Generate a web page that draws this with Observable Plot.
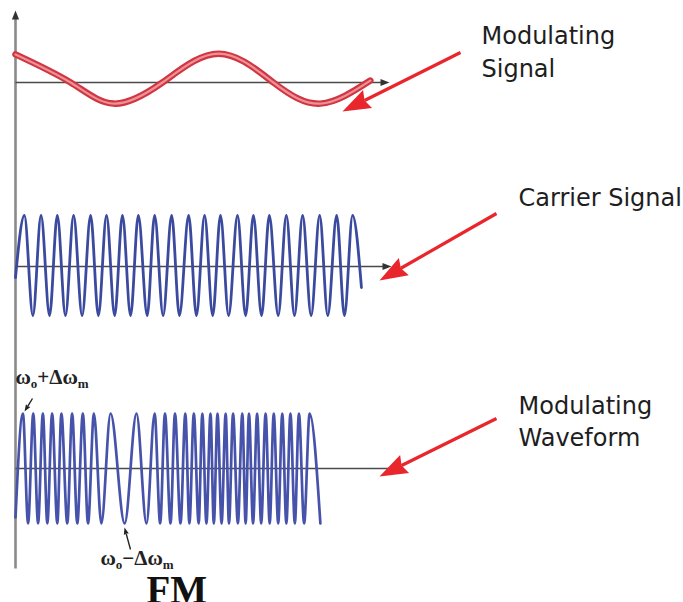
<!DOCTYPE html>
<html><head><meta charset="utf-8">
<script src="https://cdn.jsdelivr.net/npm/d3@7"></script>
<script src="https://cdn.jsdelivr.net/npm/@observablehq/plot@0.6"></script>
<style>html,body{margin:0;padding:0;background:#fff;overflow:hidden}#chart svg{display:block}</style>
</head><body><div id="chart"></div>
<script>
// ---- data (time t in arbitrary units 0..100, signal values in amplitude units) ----
// Modulating signal: key points (extrema and zero crossings)
const modT = [0, 14.9, 26.5, 39.7, 54.9, 69.7, 82.4, 95.9];
const modV = [1.17, 0, -0.88, 0, 1.2, 0, -0.88, 0.08];

// Carrier: crest and trough times, start and end samples
const carrierPeaks = [2.4, 6.9, 11.3, 15.7, 20.3, 24.6, 28.9, 33.2, 37.6, 42.2, 46.8, 51.1, 55.4, 60.0, 64.3, 68.6, 73.2, 77.6, 82.2, 86.8, 91.1];
const carrierTroughs = [4.7, 9.2, 13.5, 18.0, 22.4, 26.8, 31.1, 35.6, 39.9, 44.3, 48.9, 53.3, 57.6, 62.2, 66.5, 71.0, 75.4, 79.9, 84.4, 88.9];
const carrierEnds = [[0, -0.24], [93.5, -0.44]];

// FM waveform: crest and trough times (frequency follows the modulating signal)
const fmPeaks = [2.0, 4.8, 7.4, 9.9, 12.4, 15.3, 18.2, 21.2, 25.7, 32.7, 37.6, 40.4, 43.1, 45.9, 48.2, 50.5, 52.7, 54.6, 56.8, 58.8, 61.3, 63.1, 65.3, 67.6, 69.8, 72.1, 74.3, 76.6, 79.5];
const fmTroughs = [3.4, 6.1, 8.6, 11.3, 14.0, 16.7, 19.6, 23.2, 29.5, 35.4, 39.1, 41.9, 44.6, 47.0, 49.5, 51.6, 53.6, 55.7, 57.7, 60.1, 62.2, 64.2, 66.4, 68.7, 71.0, 73.2, 75.5, 78.0, 82.4];
const fmStart = [[0, -0.89]];

// Texts
const sideLabels = [["Modulating", "Signal"], ["Carrier Signal"], ["Modulating", "Waveform"]];
const omegaHigh = ["ω", "o", "+Δω", "m"];
const omegaLow = ["ω", "o", "−Δω", "m"];
const fmTitle = "FM";

// ---- layout ----
const X0 = 15, PX_PER_T = 3.7;
const px2t = px => (px - X0) / PX_PER_T;
const panel = {mod: {base: 82, amp: 24}, carrier: {base: 265, amp: 50}, fm: {base: 468, amp: 55}};

const toRows = (ts, vs, p) => ts.map((t, i) => ({t, y: p.base - p.amp * vs[i]}));
const fromExtrema = (peaks, troughs, extra) => {
  const pts = [...peaks.map(t => [t, 1]), ...troughs.map(t => [t, -1]), ...extra];
  pts.sort((a, b) => a[0] - b[0]);
  return pts;
};
const modRows = toRows(modT, modV, panel.mod);
const carPts = fromExtrema(carrierPeaks, carrierTroughs, carrierEnds);
const carRows = toRows(carPts.map(d => d[0]), carPts.map(d => d[1]), panel.carrier);
const fmPts = fromExtrema(fmPeaks, fmTroughs, fmStart);
const fmRows = toRows(fmPts.map(d => d[0]), fmPts.map(d => d[1]), panel.fm);

// arrow geometry (pixel space -> t for x)
function arrow(id, x0, y0, x1, y1, L, W, notch) {
  const dx = x1 - x0, dy = y1 - y0, d = Math.hypot(dx, dy), ux = dx / d, uy = dy / d, nx = -uy, ny = ux;
  const bx = x1 - ux * L, by = y1 - uy * L;
  const mx = x1 - ux * L * (1 - notch), my = y1 - uy * L * (1 - notch);
  const head = [[x1, y1], [bx + nx * W, by + ny * W], [mx, my], [bx - nx * W, by - ny * W]]
    .map(([x, y]) => ({id, t: px2t(x), y}));
  const shaft = {id, t1: px2t(x0), y1: y0, t2: px2t(mx), y2: my};
  return {head, shaft};
}
const redArrows = [
  arrow("r1", 460, 52, 342, 111, 28, 10, 0.12),
  arrow("r2", 496, 213, 379, 280, 28, 10, 0.12),
  arrow("r3", 496, 418, 379, 476, 28, 10, 0.12)
];
const blackArrows = [
  arrow("b1", 32, 398, 24, 411, 7, 2.6, 0.1),
  arrow("b2", 130, 549, 124, 527, 7, 2.6, 0.1)
];
const axisHeads = [
  arrow("a1", 15, 40, 15, 10, 9, 3.6, 0),
  arrow("a2", 360, 82, 389, 82, 9, 3.6, 0),
  arrow("a3", 360, 266, 391, 266, 9, 3.6, 0)
];
const hAxes = [
  {t1: 0, t2: px2t(383), y: 82},
  {t1: 0, t2: px2t(384), y: 266},
  {t1: 0, t2: px2t(393), y: 468}
];

const textRows = [
  {t: px2t(481), y: 43, s: sideLabels[0][0]},
  {t: px2t(481), y: 76, s: sideLabels[0][1]},
  {t: px2t(518), y: 205, s: sideLabels[1][0]},
  {t: px2t(518), y: 413, s: sideLabels[2][0]},
  {t: px2t(518), y: 445, s: sideLabels[2][1]}
];

const chart = Plot.plot({
  width: 683, height: 602,
  marginTop: 0, marginRight: 0, marginBottom: 0, marginLeft: 0,
  style: {background: "white", overflow: "visible"},
  x: {domain: [0, 100], range: [X0, X0 + 100 * PX_PER_T], axis: null},
  y: {domain: [0, 602], range: [0, 602], axis: null},
  marks: [
    // vertical axis
    Plot.link([{t: 0, y1: 18, y2: 568}], {x1: "t", x2: "t", y1: "y1", y2: "y2", stroke: "#8a8a8a", strokeWidth: 2.6}),
    // horizontal axes
    Plot.link(hAxes, {x1: "t1", x2: "t2", y1: "y", y2: "y", stroke: "#4a4a4a", strokeWidth: 1.7}),
    Plot.line(axisHeads.flatMap(a => a.head), {x: "t", y: "y", z: "id", fill: "#333", stroke: "none"}),
    // modulating signal (double-stroked red band)
    Plot.line(modRows, {x: "t", y: "y", curve: "natural", stroke: "#cf3641", strokeWidth: 6.5}),
    Plot.line(modRows, {x: "t", y: "y", curve: "natural", stroke: "#ef9097", strokeWidth: 2.2}),
    // carrier
    Plot.line(carRows, {x: "t", y: "y", curve: "monotone-x", stroke: "#3b4a9e", strokeWidth: 2.8}),
    // FM
    Plot.line(fmRows, {x: "t", y: "y", curve: "monotone-x", stroke: "#4753aa", strokeWidth: 2.7}),
    // red arrows
    Plot.link(redArrows.map(a => a.shaft), {x1: "t1", y1: "y1", x2: "t2", y2: "y2", stroke: "#e8262b", strokeWidth: 3.2}),
    Plot.line(redArrows.flatMap(a => a.head), {x: "t", y: "y", z: "id", fill: "#e8262b", stroke: "none"}),
    // small black arrows
    Plot.link(blackArrows.map(a => a.shaft), {x1: "t1", y1: "y1", x2: "t2", y2: "y2", stroke: "#222", strokeWidth: 1.4}),
    Plot.line(blackArrows.flatMap(a => a.head), {x: "t", y: "y", z: "id", fill: "#222", stroke: "none"}),
    // side labels
    Plot.text(textRows, {x: "t", y: "y", text: "s", textAnchor: "start", lineAnchor: "bottom",
      fontFamily: "DejaVu Sans", fontSize: 24, fill: "#1e1e1e"}),
    // omega labels
    Plot.text([{t: px2t(15), y: 383, s: omegaHigh.join("")}, {t: px2t(100), y: 564, s: omegaLow.join("")}],
      {x: "t", y: "y", text: "s", textAnchor: "start", lineAnchor: "bottom",
       fontFamily: "Liberation Serif", fontWeight: "bold", fontSize: 21, fill: "#222"}),
    // FM title
    Plot.text([{t: px2t(146), y: 602, s: fmTitle}], {x: "t", y: "y", text: "s", textAnchor: "start", lineAnchor: "bottom",
      fontFamily: "Liberation Serif", fontWeight: "bold", fontSize: 39, fill: "#111"})
  ]
});
document.getElementById("chart").appendChild(chart);

// render subscripts of the omega labels as tspans
const pieces = {};
pieces[omegaHigh.join("")] = omegaHigh;
pieces[omegaLow.join("")] = omegaLow;
d3.select(chart).selectAll("text").each(function () {
  const p = pieces[this.textContent];
  if (!p) return;
  const el = d3.select(this);
  el.text(null);
  p.forEach((s, i) => {
    const sub = i % 2 === 1;
    el.append("tspan").text(s)
      .attr("font-size", sub ? 13 : 21)
      .attr("dy", sub ? 4 : (i === 0 ? 0 : -4));
  });
});
</script>
</body></html>
